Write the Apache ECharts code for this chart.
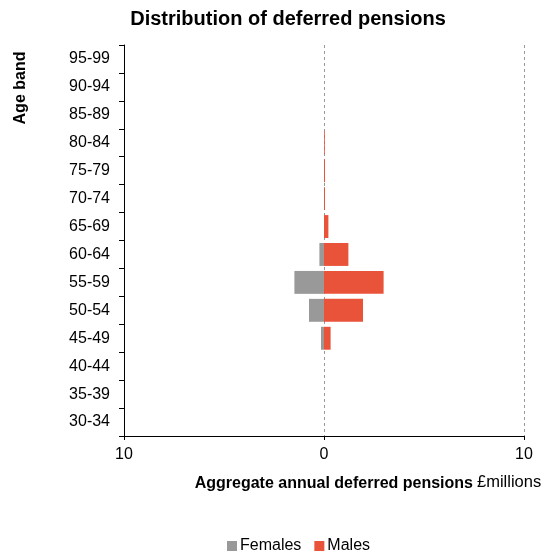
<!DOCTYPE html>
<html>
<head>
<meta charset="utf-8">
<script src="https://cdn.jsdelivr.net/npm/echarts@6/dist/echarts.min.js"></script>
<style>
  html, body { margin: 0; padding: 0; background: #fff; }
  #chart { width: 546px; height: 555px; }
</style>
</head>
<body>
<div id="chart"></div>
<script>
// Age bands, bottom to top
const ageBands = ['30-34', '35-39', '40-44', '45-49', '50-54', '55-59', '60-64',
                  '65-69', '70-74', '75-79', '80-84', '85-89', '90-94', '95-99'];
// Aggregate annual deferred pensions, £ millions
const females = [0, 0, 0, 0.15, 0.75, 1.48, 0.23, 0, 0, 0, 0, 0, 0, 0];
const males   = [0, 0, 0, 0.33, 1.95, 2.98, 1.22, 0.22, 0.05, 0.05, 0.04, 0, 0, 0];
const xTicks = { min: -10, max: 10, step: 10 };

const FONT = 'Liberation Sans, Arial, sans-serif';
const chart = echarts.init(document.getElementById('chart'), null, { renderer: 'canvas' });

chart.setOption({
  animation: false,
  textStyle: { fontFamily: FONT },
  title: {
    text: 'Distribution of deferred pensions',
    left: 283, top: 4, textAlign: 'center',
    textStyle: { fontFamily: FONT, fontSize: 20, fontWeight: 'bold', color: '#000' }
  },
  legend: {
    data: ['Females', 'Males'],
    left: 222, top: 533,
    itemWidth: 10, itemHeight: 10, itemGap: 13,
    icon: 'rect',
    textStyle: { fontFamily: FONT, fontSize: 16, color: '#000', padding: [0, 0, 0, -2] }
  },
  grid: { left: 124, right: 22, top: 45, bottom: 119, containLabel: false },
  xAxis: {
    type: 'value',
    min: xTicks.min, max: xTicks.max, interval: xTicks.step,
    axisLine: { show: true, onZero: false, lineStyle: { color: '#000', width: 1 } },
    axisTick: { show: true, length: 4, lineStyle: { color: '#000' } },
    axisLabel: {
      fontFamily: FONT, fontSize: 16, color: '#000', margin: 11,
      formatter: v => String(Math.abs(v))
    },
    splitLine: { show: true, lineStyle: { color: '#999', type: [3, 3], width: 1 } }
  },
  yAxis: {
    type: 'category',
    data: ageBands,
    axisLine: { show: true, onZero: false, lineStyle: { color: '#000', width: 1 } },
    axisTick: { show: true, length: 5, alignWithLabel: false, lineStyle: { color: '#000' } },
    axisLabel: { fontFamily: FONT, fontSize: 16, color: '#000', margin: 14, padding: [4, 0, 0, 0] },
    splitLine: { show: false }
  },
  graphic: [
    {
      type: 'text', x: 21, y: 88, rotation: Math.PI / 2,
      style: {
        text: 'Age band', font: 'bold 16px ' + FONT, fill: '#000',
        textAlign: 'center', textVerticalAlign: 'middle'
      }
    },
    {
      type: 'text', x: 473, y: 484,
      style: {
        text: 'Aggregate annual deferred pensions', font: 'bold 16px ' + FONT, fill: '#000',
        textAlign: 'right', textVerticalAlign: 'middle'
      }
    },
    {
      type: 'text', x: 477, y: 482,
      style: {
        text: '£millions', font: '16.5px ' + FONT, fill: '#000',
        textAlign: 'left', textVerticalAlign: 'middle'
      }
    }
  ],
  series: [
    {
      name: 'Females', type: 'bar', stack: 'pop',
      barCategoryGap: '18%',
      itemStyle: { color: '#999999' },
      data: females.map(v => -v)
    },
    {
      name: 'Males', type: 'bar', stack: 'pop',
      barCategoryGap: '18%',
      itemStyle: { color: '#E8533A' },
      data: males
    }
  ]
});
</script>
</body>
</html>
